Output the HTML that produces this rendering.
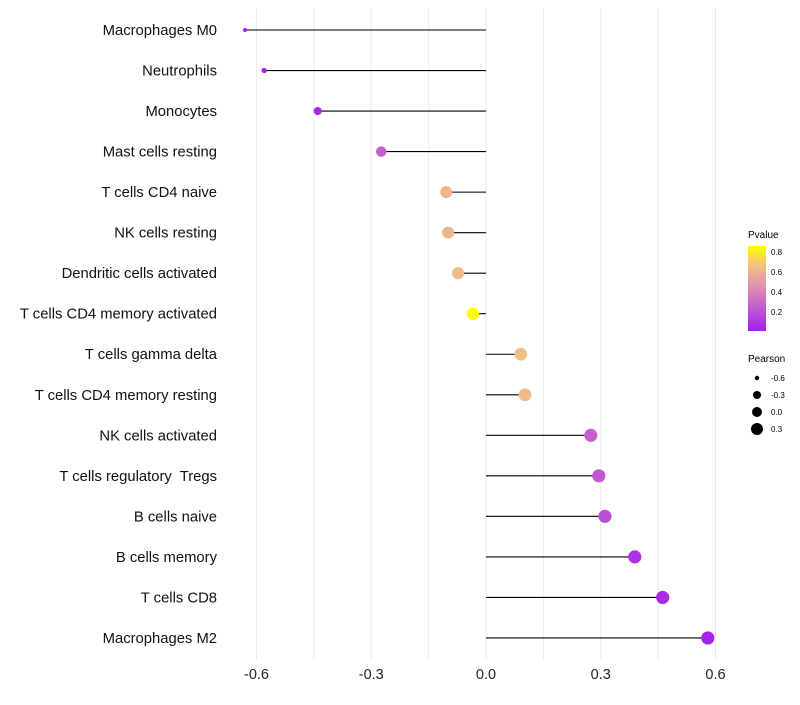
<!DOCTYPE html>
<html><head><meta charset="utf-8"><style>
body{margin:0;background:#fff;font-family:"Liberation Sans",sans-serif;}
text{white-space:pre;}
</style></head><body>
<svg id="chart" width="800" height="700" xmlns="http://www.w3.org/2000/svg">
<defs><linearGradient id="pg" x1="0" y1="1" x2="0" y2="0">
<stop offset="0" stop-color="#a020f0"/><stop offset="0.5" stop-color="#dc8cb4"/><stop offset="0.76" stop-color="#f2be82"/><stop offset="1" stop-color="#ffff00"/>
</linearGradient></defs>
<g id="grid"></g><g id="marks"></g><g id="labels"></g>
<g font-size="10">
<text x="748" y="238" fill="#000">Pvalue</text>
<rect x="748" y="246" width="18" height="85" fill="url(#pg)"/>
<text x="771" y="255" font-size="8">0.8</text><text x="771" y="275" font-size="8">0.6</text>
<text x="771" y="295" font-size="8">0.4</text><text x="771" y="315" font-size="8">0.2</text>
</g>
<g font-size="10">
<text x="748" y="362">Pearson</text>
<circle cx="757" cy="378" r="2.2"/><text x="771" y="381" font-size="8">-0.6</text>
<circle cx="757" cy="395" r="4"/><text x="771" y="398" font-size="8">-0.3</text>
<circle cx="757" cy="412" r="5"/><text x="771" y="415" font-size="8">0.0</text>
<circle cx="757" cy="429" r="6"/><text x="771" y="432" font-size="8">0.3</text>
</g>
</svg>
<script>
const cells=["Macrophages M0","Neutrophils","Monocytes","Mast cells resting","T cells CD4 naive","NK cells resting","Dendritic cells activated","T cells CD4 memory activated","T cells gamma delta","T cells CD4 memory resting","NK cells activated","T cells regulatory  Tregs","B cells naive","B cells memory","T cells CD8","Macrophages M2"];
const pearson=[-0.63,-0.58,-0.44,-0.274,-0.104,-0.099,-0.073,-0.034,0.091,0.102,0.274,0.295,0.311,0.389,0.462,0.58];
const pvals=[0.0,0.01,0.05,0.25,0.6,0.6,0.63,0.87,0.64,0.63,0.25,0.22,0.18,0.08,0.04,0.02];
const ticks=[-0.6,-0.3,0.0,0.3,0.6];
const NS="http://www.w3.org/2000/svg";
const xs=v=>486+v*382.5, ys=i=>30+i*40.53;
const rad=v=>6.6-4.6*Math.pow((0.58-v)/1.21,3.5);
function mk(t,a,p){const e=document.createElementNS(NS,t);for(const k in a)e.setAttribute(k,a[k]);p.appendChild(e);return e;}
const stops=[[0,[160,32,240]],[0.5,[220,140,180]],[0.76,[242,192,132]],[1,[255,255,0]]];
function col(p){let t=Math.min(1,Math.max(0,p/0.85));for(let i=1;i<stops.length;i++){if(t<=stops[i][0]){const a=stops[i-1],b=stops[i],f=(t-a[0])/(b[0]-a[0]);return "rgb("+a[1].map((c,j)=>Math.round(c+(b[1][j]-c)*f)).join(",")+")";}}return "rgb(255,255,0)";}
const g=document.getElementById('grid'),m=document.getElementById('marks'),l=document.getElementById('labels');
for(let v=-0.6;v<=0.61;v+=0.15){const e=mk('line',{x1:xs(v),x2:xs(v),y1:8,y2:660,stroke:"#ebebeb","stroke-width":1},g);

}
ticks.forEach(v=>{const t=mk('text',{x:xs(v),y:679,"text-anchor":"middle","font-size":14.5,fill:"#222"},l);t.textContent=v.toFixed(1);

});
cells.forEach((c,i)=>{const y=ys(i);
const ln=mk('line',{x1:xs(0),x2:xs(pearson[i]),y1:y,y2:y,stroke:"#000","stroke-width":1.1},m);


const ci=mk('circle',{cx:xs(pearson[i]),cy:y,r:rad(pearson[i]),fill:col(pvals[i])},m);


const t=mk('text',{x:217,y:y+5,"text-anchor":"end","font-size":14.8,fill:"#111"},l);t.textContent=c;

});
</script>
</body></html>
